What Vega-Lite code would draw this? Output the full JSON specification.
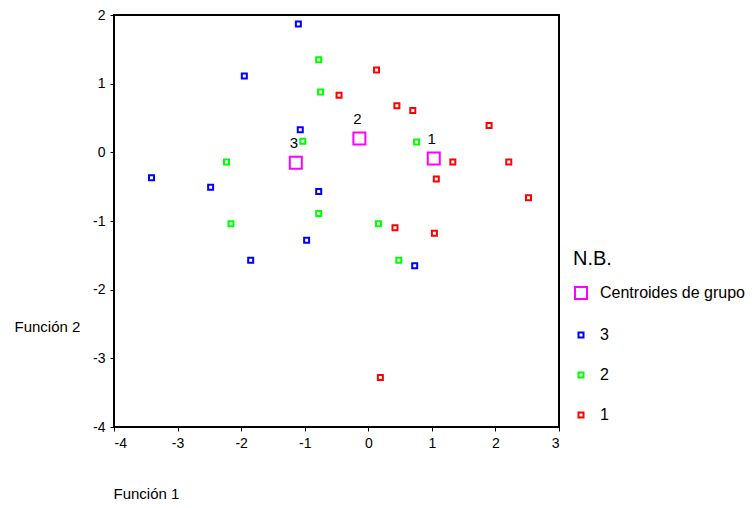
{
  "$schema": "https://vega.github.io/schema/vega-lite/v6.json",
  "width": 445,
  "height": 412,
  "autosize": "none",
  "padding": {"left": 114, "top": 15, "right": 195, "bottom": 81},
  "background": "white",
  "config": {
    "font": "Liberation Sans",
    "view": {"stroke": "black", "strokeWidth": 2},
    "axis": {
      "grid": false,
      "domain": false,
      "tickColor": "black",
      "tickSize": 4,
      "tickWidth": 1,
      "labelColor": "black",
      "labelFont": "Liberation Sans",
      "labelFontSize": 14,
      "titleFont": "Liberation Sans",
      "titleFontSize": 15,
      "titleFontWeight": "normal",
      "titleColor": "black"
    },
    "legend": {
      "titleFont": "Liberation Sans",
      "labelFont": "Liberation Sans"
    }
  },
  "datasets": {
    "pts": [
      {"f1": -1.10, "f2": 1.87, "nb": "3"},
      {"f1": -1.95, "f2": 1.11, "nb": "3"},
      {"f1": -1.07, "f2": 0.33, "nb": "3"},
      {"f1": -3.41, "f2": -0.37, "nb": "3"},
      {"f1": -2.48, "f2": -0.51, "nb": "3"},
      {"f1": -0.78, "f2": -0.57, "nb": "3"},
      {"f1": -0.97, "f2": -1.28, "nb": "3"},
      {"f1": -1.85, "f2": -1.57, "nb": "3"},
      {"f1": 0.73, "f2": -1.65, "nb": "3"},
      {"f1": -0.78, "f2": 1.35, "nb": "2"},
      {"f1": -0.75, "f2": 0.88, "nb": "2"},
      {"f1": -1.03, "f2": 0.16, "nb": "2"},
      {"f1": -2.23, "f2": -0.14, "nb": "2"},
      {"f1": -0.78, "f2": -0.89, "nb": "2"},
      {"f1": 0.76, "f2": 0.15, "nb": "2"},
      {"f1": -2.16, "f2": -1.04, "nb": "2"},
      {"f1": 0.16, "f2": -1.04, "nb": "2"},
      {"f1": 0.48, "f2": -1.57, "nb": "2"},
      {"f1": -0.46, "f2": 0.83, "nb": "1"},
      {"f1": 0.13, "f2": 1.20, "nb": "1"},
      {"f1": 0.45, "f2": 0.68, "nb": "1"},
      {"f1": 0.70, "f2": 0.61, "nb": "1"},
      {"f1": 1.90, "f2": 0.39, "nb": "1"},
      {"f1": 1.33, "f2": -0.14, "nb": "1"},
      {"f1": 2.21, "f2": -0.14, "nb": "1"},
      {"f1": 1.07, "f2": -0.39, "nb": "1"},
      {"f1": 2.52, "f2": -0.66, "nb": "1"},
      {"f1": 0.42, "f2": -1.10, "nb": "1"},
      {"f1": 1.04, "f2": -1.18, "nb": "1"},
      {"f1": 0.19, "f2": -3.28, "nb": "1"},
      {"f1": -1.14, "f2": -0.15, "nb": "Centroides de grupo", "grp": "3"},
      {"f1": -0.14, "f2": 0.20, "nb": "Centroides de grupo", "grp": "2"},
      {"f1": 1.03, "f2": -0.09, "nb": "Centroides de grupo", "grp": "1"}
    ]
  },
  "data": {"name": "pts"},
  "layer": [
    {
      "mark": {"type": "point", "shape": "square", "filled": false, "strokeWidth": 2, "opacity": 1},
      "encoding": {
        "x": {
          "field": "f1", "type": "quantitative",
          "scale": {"domain": [-4, 3], "nice": false, "zero": false},
          "axis": {"values": [-4, -3, -2, -1, 0, 1, 2, 3], "labelExpr": "'' + datum.value", "title": "Función 1", "titleAlign": "left", "titleAnchor": "start", "titleX": -1, "titleY": 66, "titleBaseline": "middle", "labelPadding": 5}
        },
        "y": {
          "field": "f2", "type": "quantitative",
          "scale": {"domain": [-4, 2], "nice": false, "zero": false},
          "axis": {"values": [-4, -3, -2, -1, 0, 1, 2], "labelExpr": "'' + datum.value", "title": "Función 2", "titleAngle": 0, "titleAlign": "left", "titleX": -100, "titleY": 311, "titleBaseline": "middle", "labelPadding": 5}
        },
        "color": {
          "field": "nb", "type": "nominal",
          "scale": {"domain": ["Centroides de grupo", "3", "2", "1"], "range": ["#FF00FF", "#0000FF", "#00FF00", "#FF0000"]},
          "legend": {
            "title": "N.B.",
            "orient": "none",
            "legendX": 459,
            "legendY": 234,
            "titleFontSize": 20,
            "titleFontWeight": "normal",
            "titleColor": "black",
            "titlePadding": 16,
            "labelFontSize": 16,
            "labelColor": "black",
            "labelOffset": 11,
            "rowPadding": 24,
            "symbolType": "square",
            "symbolStrokeWidth": 2,
            "symbolFillColor": "transparent"
          }
        },
        "size": {
          "field": "nb", "type": "nominal",
          "scale": {"type": "ordinal", "domain": ["Centroides de grupo", "3", "2", "1"], "range": [144, 25, 25, 25]}
        }
      }
    },
    {
      "transform": [{"filter": "datum.grp != null"}],
      "mark": {"type": "text", "fontSize": 15, "dx": -2, "dy": -20, "color": "black", "font": "Liberation Sans"},
      "encoding": {
        "x": {"field": "f1", "type": "quantitative"},
        "y": {"field": "f2", "type": "quantitative"},
        "text": {"field": "grp"}
      }
    }
  ]
}
